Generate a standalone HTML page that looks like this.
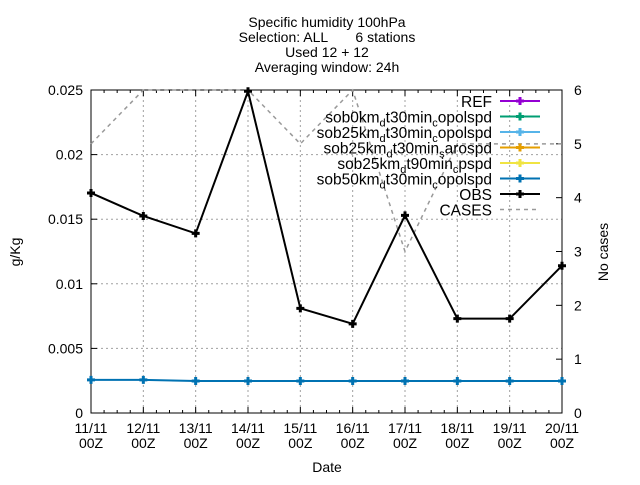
<!DOCTYPE html>
<html><head><meta charset="utf-8"><style>
body{margin:0;background:#fff}
svg{font-family:"Liberation Sans",sans-serif;font-size:14px}
</style></head><body>
<svg id="c" width="640" height="480" viewBox="0 0 640 480">
<g text-anchor="middle" font-size="14">
<text x="327" y="27">Specific humidity 100hPa</text>
<text x="327" y="42">Selection: ALL&#160;&#160;&#160;&#160;&#160;&#160; 6 stations</text>
<text x="327" y="57">Used 12 + 12</text>
<text x="327" y="72">Averaging window: 24h</text>
</g>
<text transform="translate(20,252) rotate(-90)" text-anchor="middle">g/Kg</text>
<text transform="translate(608,252) rotate(-90)" text-anchor="middle">No cases</text>
<text x="327" y="472" text-anchor="middle">Date</text>
</svg>
<script>
const categories=["11/11","12/11","13/11","14/11","15/11","16/11","17/11","18/11","19/11","20/11"];
const obsValues=[0.01703,0.01525,0.0139,0.0249,0.0081,0.0069,0.0153,0.0073,0.0073,0.0114];
const sob50Values=[0.00256,0.00256,0.00248,0.00248,0.00248,0.00248,0.00248,0.00248,0.00248,0.00248];
const casesValues=[5,6,6,6,5,6,3,5,5,5];
const yTicks=["0","0.005","0.01","0.015","0.02","0.025"];
const y2Ticks=["0","1","2","3","4","5","6"];
const L=91,R=562,T=90,B=413;
const xs=i=>L+i*(R-L)/(categories.length-1);
const ys=v=>B-v/0.025*(B-T);
const ys2=v=>B-v/6*(B-T);
const svg=document.getElementById('c');const NS="http://www.w3.org/2000/svg";
function mk(t,a,p){const e=document.createElementNS(NS,t);for(const k in a)e.setAttribute(k,a[k]);(p||svg).appendChild(e);return e;}
const grid=mk('g',{stroke:'#a0a0a0','stroke-dasharray':'2,3','stroke-width':1});


categories.forEach((c,i)=>{if(i>0&&i<categories.length-1)mk('line',{x1:xs(i),x2:xs(i),y1:T,y2:B},grid);});
yTicks.forEach((t,i)=>{const y=ys(parseFloat(t));if(i>0&&i<yTicks.length-1)mk('line',{x1:L,x2:R,y1:y,y2:y},grid);});
const fr=mk('rect',{x:L,y:T,width:R-L,height:B-T,fill:'none',stroke:'#000'});


const tk=mk('g',{stroke:'#000'});
yTicks.forEach(t=>{const y=ys(parseFloat(t));mk('line',{x1:L,x2:L+6,y1:y,y2:y},tk);
 const tx=mk('text',{x:L-8,y:y+5,'text-anchor':'end',stroke:'none'});tx.textContent=t;
 
 });
y2Ticks.forEach(t=>{const y=ys2(+t);mk('line',{x1:R,x2:R-6,y1:y,y2:y},tk);
 const tx=mk('text',{x:R+12,y:y+5,'text-anchor':'start',stroke:'none'});tx.textContent=t;
 
 });
categories.forEach((c,i)=>{const x=xs(i);mk('line',{x1:x,x2:x,y1:B,y2:B-6},tk);mk('line',{x1:x,x2:x,y1:T,y2:T+6},tk);
 if(i<categories.length-1)for(let k=1;k<4;k++){const xm=x+k*(R-L)/(categories.length-1)/4;mk('line',{x1:xm,x2:xm,y1:B,y2:B-3},tk);mk('line',{x1:xm,x2:xm,y1:T,y2:T+3},tk);}
 const tx=mk('text',{x:x,y:433,'text-anchor':'middle',stroke:'none'});tx.textContent=c;
 
 
 const t2=mk('text',{x:x,y:448,'text-anchor':'middle',stroke:'none'});t2.textContent="00Z";
 
 });
const cp=mk('polyline',{points:casesValues.map((v,i)=>xs(i)+','+ys2(v)).join(' '),fill:'none',stroke:'#999','stroke-width':1.5,'stroke-dasharray':'4,4'});


function series(vals,col,name){const g=mk('g',{});
 
 
 mk('polyline',{points:vals.map((v,i)=>xs(i)+','+ys(v)).join(' '),fill:'none',stroke:col,'stroke-width':2},g);
 vals.forEach((v,i)=>{const p=mk('path',{d:`M${xs(i)-4},${ys(v)}h8M${xs(i)},${ys(v)-4}v8`,stroke:col,'stroke-width':3},g);
 
 });}
series(sob50Values,'#0072b2','sob50-series');
series(obsValues,'#000','obs-series');
const leg=[["REF","#9400d3"],["sob0km_d_t30min_c_opolspd","#009e73"],["sob25km_d_t30min_c_opolspd","#56b4e9"],["sob25km_d_t30min_s_arospd","#e69f00"],["sob25km_d_t90min_c_pspd","#f0e442"],["sob50km_d_t30min_c_opolspd","#0072b2"],["OBS","#000"],["CASES","#999"]];
const lg=mk('g',{});


leg.forEach((e,i)=>{const y=101+i*15.5;const tx=mk('text',{x:492,y:y+6,'text-anchor':'end','font-size':'15.5'},lg);
 const parts=e[0].split('_');
 parts.forEach((p,j)=>{const s=mk('tspan',{},tx);
 if(j%2==1){s.setAttribute('font-size','11');s.setAttribute('dy','4');}else if(j>0){s.setAttribute('dy','-4');}
 s.textContent=p;});
 
 
 if(e[0]=="CASES")mk('line',{x1:500,x2:540,y1:y,y2:y,stroke:e[1],'stroke-width':1.5,'stroke-dasharray':'4,4'},lg);
 else{mk('line',{x1:500,x2:540,y1:y,y2:y,stroke:e[1],'stroke-width':2},lg);mk('path',{d:`M516,${y}h8M520,${y-4}v8`,stroke:e[1],'stroke-width':3},lg);}
});
</script>
</body></html>
